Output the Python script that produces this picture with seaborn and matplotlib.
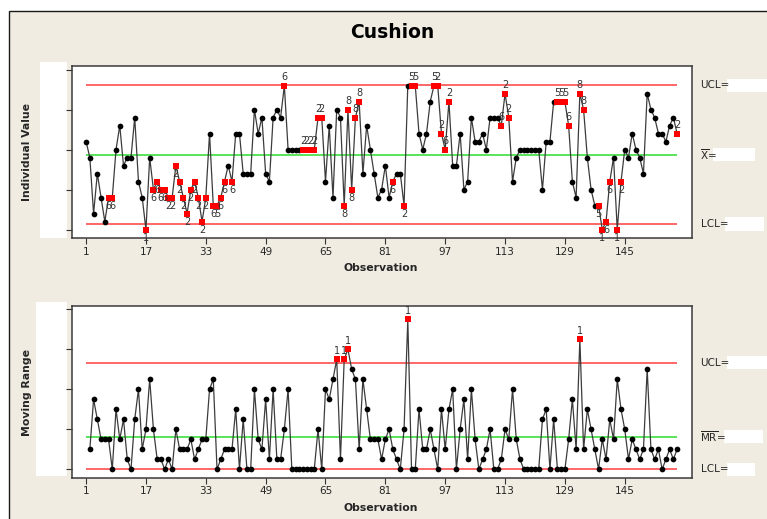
import numpy as np
import pandas as pd
import matplotlib
matplotlib.use("Agg")
import matplotlib.pyplot as plt
import seaborn as sns
from matplotlib.patches import Rectangle

# ---- data -----------------------------------------------------------------
cushion = [
    5.1, 4.9, 4.2, 4.7, 4.4, 4.1, 4.4, 4.4, 5.0, 5.3,
    4.8, 4.9, 4.9, 5.4, 4.6, 4.4, 4.0, 4.9, 4.5, 4.6,
    4.5, 4.5, 4.4, 4.4, 4.8, 4.6, 4.4, 4.2, 4.5, 4.6,
    4.4, 4.1, 4.4, 5.2, 4.3, 4.3, 4.4, 4.6, 4.8, 4.6,
    5.2, 5.2, 4.7, 4.7, 4.7, 5.5, 5.2, 5.4, 4.7, 4.6,
    5.4, 5.5, 5.4, 5.8, 5.0, 5.0, 5.0, 5.0, 5.0, 5.0,
    5.0, 5.0, 5.4, 5.4, 4.6, 5.3, 4.4, 5.5, 5.4, 4.3,
    5.5, 4.5, 5.4, 5.6, 4.7, 5.3, 5.0, 4.7, 4.4, 4.5,
    4.8, 4.4, 4.6, 4.7, 4.7, 4.3, 5.8, 5.8, 5.8, 5.2,
    5.0, 5.2, 5.6, 5.8, 5.8, 5.2, 5.0, 5.6, 4.8, 4.8,
    5.2, 4.5, 4.6, 5.4, 5.1, 5.1, 5.2, 5.0, 5.4, 5.4,
    5.4, 5.3, 5.7, 5.4, 4.6, 4.9, 5.0, 5.0, 5.0, 5.0,
    5.0, 5.0, 4.5, 5.1, 5.1, 5.6, 5.6, 5.6, 5.6, 5.3,
    4.6, 4.4, 5.7, 5.5, 4.9, 4.5, 4.3, 4.3, 4.0, 4.1,
    4.6, 4.9, 4.0, 4.6, 5.0, 4.9, 5.2, 5.0, 4.9, 4.7,
    5.7, 5.5, 5.4, 5.2, 5.2, 5.1, 5.3, 5.4, 5.2,
]

# observations failing a special-cause test, with the test number shown
i_flag_obs = [7, 8, 17, 19, 20, 21, 22, 23, 24, 25, 26, 27, 28, 29, 30, 31,
              32, 33, 35, 36, 37, 38, 40, 54, 59, 60, 61, 62, 63, 64, 70, 71,
              72, 73, 74, 83, 86, 88, 89, 94, 95, 96, 97, 98, 112, 113, 114,
              127, 128, 129, 130, 133, 134, 138, 139, 140, 141, 143, 144, 159]
i_flag_test = ["6", "6", "1", "6", "6", "6", "6", "2", "2", "2", "2", "2",
               "2", "2", "2", "2", "2", "2", "6", "5", "6", "6", "6", "6",
               "2", "2", "2", "2", "2", "2", "8", "8", "8", "8", "8", "6",
               "2", "5", "5", "5", "2", "2", "6", "2", "6", "2", "2", "5",
               "5", "5", "6", "8", "8", "5", "1", "6", "6", "1", "2", "2"]
mr_flag_obs = [68, 70, 71, 87, 133]
mr_flag_test = ["1", "1", "1", "1", "1"]

x_ticks = [1, 17, 33, 49, 65, 81, 97, 113, 129, 145]
i_yticks = [4.0, 4.5, 5.0, 5.5, 6.0]
mr_yticks = [0.0, 0.4, 0.8, 1.2, 1.6]

# ---- statistics -------------------------------------------------------------
values = np.array(cushion)
n = len(values)
obs = np.arange(1, n + 1)
mr = np.round(np.abs(np.diff(values)), 2)
mr_obs = obs[1:]

xbar = values.mean()
mrbar = mr.mean()
i_ucl = xbar + 2.66 * mrbar
i_lcl = xbar - 2.66 * mrbar
mr_ucl = 3.267 * mrbar
mr_lcl = 0.0

# ---- styling ------------------------------------------------------------------
sns.set_style("white")
plt.rcParams["font.family"] = ["DejaVu Sans"]

W, H = 767, 519
BEIGE = "#F0ECE2"
RED_LINE = "#FF5A5A"
GREEN_LINE = "#2EDB2E"
TXT = "#262626"

fig = plt.figure(figsize=(W / 100, H / 100), dpi=100, facecolor="white")


def fx(x):
    return x / W


def fy(y):
    return 1 - y / H


fig.patches.append(Rectangle((fx(8.5), -0.1), 1.2, fy(10.5) + 0.1,
                             transform=fig.transFigure, facecolor=BEIGE,
                             edgecolor="#1a1a1a", lw=1.0, zorder=-10))


def make_axes(top, bottom):
    ax = fig.add_axes([fx(71.7), fy(bottom), fx(691.7) - fx(71.7),
                       fy(top) - fy(bottom)])
    ax.set_zorder(1)
    return ax


ax1 = make_axes(65.7, 238.3)
ax2 = make_axes(305.7, 477.7)


def draw_chart(ax, xs, ys, flag_obs, flag_test, center, ucl, lcl, ylim, yticks):
    df = pd.DataFrame({"Observation": xs, "Value": ys})
    sns.lineplot(data=df, x="Observation", y="Value", ax=ax, color="#3c3c3c",
                 lw=0.9, zorder=3)
    ax.hlines([ucl, lcl], 1, n, colors=RED_LINE, lw=1.3, zorder=2)
    ax.hlines(center, 1, n, colors=GREEN_LINE, lw=1.1, zorder=2)
    normal = df[~df["Observation"].isin(flag_obs)]
    flagged = df[df["Observation"].isin(flag_obs)]
    sns.scatterplot(data=normal, x="Observation", y="Value", ax=ax,
                    color="black", s=17, marker="o", linewidth=0, zorder=4)
    sns.scatterplot(data=flagged, x="Observation", y="Value", ax=ax,
                    color="#FF0000", s=20, marker="s", linewidth=0, zorder=5)
    lookup = dict(zip(xs, ys))
    for o, t in zip(flag_obs, flag_test):
        v = lookup[o]
        above = v >= center
        ax.annotate(t, (o, v), xytext=(0, 2.5 if above else -2.5),
                    textcoords="offset points", ha="center",
                    va="bottom" if above else "top", fontsize=7,
                    color="#333333", annotation_clip=False, zorder=6)

    ax.set_xlim(-2.85, 162.9)
    ax.set_ylim(*ylim)
    ax.set_xticks(x_ticks)
    ax.set_xticklabels([str(t) for t in x_ticks])
    ax.set_yticks(yticks)
    ax.set_yticklabels([])
    ax.set_xlabel("")
    ax.set_ylabel("")
    ax.set_facecolor("white")
    ax.tick_params(axis="both", direction="out", length=4, width=0.8,
                   color="#333333", labelsize=7.5, labelcolor=TXT, pad=2)
    ax.tick_params(axis="y", left=True)
    ax.tick_params(axis="x", bottom=True)
    for sp in ax.spines.values():
        sp.set_color("#3a3a3a")
        sp.set_linewidth(1.1)


draw_chart(ax1, list(obs), list(values), i_flag_obs, i_flag_test,
           xbar, i_ucl, i_lcl, (3.891, 6.049), i_yticks)
draw_chart(ax2, list(mr_obs), list(mr), mr_flag_obs, mr_flag_test,
           mrbar, mr_ucl, mr_lcl, (-0.084, 1.636), mr_yticks)

# ---- titles and labels ----------------------------------------------------------
fig.text(fx(392), fy(32), "Cushion", ha="center", va="center",
         fontsize=13.5, fontweight="bold", color="black")
fig.text(fx(381), fy(268), "Observation", ha="center", va="center",
         fontsize=7.8, fontweight="bold", color=TXT)
fig.text(fx(381), fy(508), "Observation", ha="center", va="center",
         fontsize=7.8, fontweight="bold", color=TXT)
fig.text(fx(27), fy(152), "Individual Value", ha="center", va="center",
         rotation=90, fontsize=7.8, fontweight="bold", color=TXT)
fig.text(fx(27), fy(392), "Moving Range", ha="center", va="center",
         rotation=90, fontsize=7.8, fontweight="bold", color=TXT)

# blank value boxes on the left
for x0, x1, y0, y1 in [(40, 66.7, 61.7, 238.0), (36, 66.7, 301.7, 475.7)]:
    fig.patches.append(Rectangle((fx(x0), fy(y1)), fx(x1) - fx(x0),
                                 fy(y0) - fy(y1), transform=fig.transFigure,
                                 facecolor="white", edgecolor="none", zorder=-5))


def fig_y(ax, v):
    disp = ax.transData.transform((0, v))
    return fig.transFigure.inverted().transform(disp)[1]


# limit labels with blank value boxes on the right
right_labels = [
    (ax1, i_ucl, "UCL=", 726.5, 767.5),
    (ax1, xbar, r"$\overline{\mathrm{X}}$=", 713, 755),
    (ax1, i_lcl, "LCL=", 725, 764),
    (ax2, mr_ucl, "UCL=", 726.5, 767.5),
    (ax2, mrbar, r"$\overline{\mathrm{MR}}$=", 724, 762.7),
    (ax2, mr_lcl, "LCL=", 726.5, 755),
]
for ax, v, label, bx0, bx1 in right_labels:
    yf = fig_y(ax, v)
    fig.text(fx(700.5), yf, label, ha="left", va="center", fontsize=7.5,
             color=TXT)
    fig.patches.append(Rectangle((fx(bx0), yf - 6.6 / H), fx(bx1) - fx(bx0),
                                 13.2 / H, transform=fig.transFigure,
                                 facecolor="white", edgecolor="none", zorder=-5))

fig.savefig("out.png", dpi=100, facecolor=fig.get_facecolor())
